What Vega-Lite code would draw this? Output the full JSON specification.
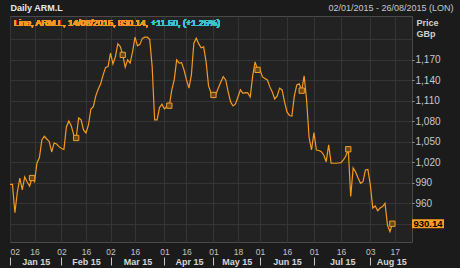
{
  "$schema": "https://vega.github.io/schema/vega-lite/v6.json",
  "width": 402,
  "height": 226,
  "autosize": {"type": "none"},
  "padding": {"left": 10, "top": 16, "right": 48, "bottom": 26},
  "background": "#1b1b1b",
  "config": {
    "view": {"fill": "#222222", "stroke": "#4a4a4a"},
    "font": "Liberation Sans",
    "axis": {"labelFont": "Liberation Sans", "titleFont": "Liberation Sans", "labelOverlap": false},
    "text": {"font": "Liberation Sans"}
  },
  "data": {
    "values": [
      {"d": 0, "p": 987.8}, {"d": 1, "p": 987.8}, {"d": 2, "p": 946.2}, {"d": 3, "p": 976.5},
      {"d": 4, "p": 997}, {"d": 5, "p": 979.5}, {"d": 6, "p": 998.5}, {"d": 7, "p": 991.2},
      {"d": 8, "p": 985.3}, {"d": 9, "p": 997, "m": 1}, {"d": 10, "p": 991.6}, {"d": 11, "p": 1019},
      {"d": 12, "p": 1027}, {"d": 13, "p": 1052.7}, {"d": 14, "p": 1058.1}, {"d": 15, "p": 1054.1},
      {"d": 16, "p": 1050.5}, {"d": 17, "p": 1035.1}, {"d": 18, "p": 1048.3}, {"d": 19, "p": 1046.8},
      {"d": 20, "p": 1042.9}, {"d": 21, "p": 1040.2}, {"d": 22, "p": 1038.8}, {"d": 23, "p": 1071.7},
      {"d": 24, "p": 1080.5}, {"d": 25, "p": 1073.2}, {"d": 26, "p": 1060}, {"d": 27, "p": 1055.6, "m": 1},
      {"d": 28, "p": 1084.9}, {"d": 29, "p": 1082}, {"d": 30, "p": 1067.3}, {"d": 31, "p": 1062.9},
      {"d": 32, "p": 1074.6}, {"d": 33, "p": 1098}, {"d": 34, "p": 1101.4}, {"d": 35, "p": 1117.1},
      {"d": 36, "p": 1127.3}, {"d": 37, "p": 1134.7}, {"d": 38, "p": 1147.8}, {"d": 39, "p": 1158.8},
      {"d": 40, "p": 1160}, {"d": 41, "p": 1179.6}, {"d": 42, "p": 1163.9}, {"d": 43, "p": 1174.6},
      {"d": 44, "p": 1193.2}, {"d": 45, "p": 1189.3}, {"d": 46, "p": 1177.1, "m": 1}, {"d": 47, "p": 1159},
      {"d": 48, "p": 1169.8}, {"d": 49, "p": 1165}, {"d": 50, "p": 1181.5}, {"d": 51, "p": 1203},
      {"d": 52, "p": 1190.3}, {"d": 53, "p": 1192.5}, {"d": 54, "p": 1201.3}, {"d": 55, "p": 1203},
      {"d": 56, "p": 1203}, {"d": 57, "p": 1200}, {"d": 58, "p": 1160}, {"d": 59, "p": 1082},
      {"d": 60, "p": 1082}, {"d": 61, "p": 1100}, {"d": 62, "p": 1105}, {"d": 63, "p": 1098},
      {"d": 64, "p": 1101.9}, {"d": 65, "p": 1102.8, "m": 1}, {"d": 66, "p": 1126}, {"d": 67, "p": 1140.5},
      {"d": 68, "p": 1169.8}, {"d": 69, "p": 1165}, {"d": 70, "p": 1165.8}, {"d": 71, "p": 1155},
      {"d": 72, "p": 1140.5}, {"d": 73, "p": 1128.4}, {"d": 74, "p": 1147.8}, {"d": 75, "p": 1194.2},
      {"d": 76, "p": 1201.6}, {"d": 77, "p": 1193.2}, {"d": 78, "p": 1187.4}, {"d": 79, "p": 1188.8},
      {"d": 80, "p": 1167}, {"d": 81, "p": 1131.7}, {"d": 82, "p": 1121.4}, {"d": 83, "p": 1118.5, "m": 1},
      {"d": 84, "p": 1119.9}, {"d": 85, "p": 1128.8}, {"d": 86, "p": 1137.6}, {"d": 87, "p": 1145.3},
      {"d": 88, "p": 1140.5}, {"d": 89, "p": 1122.9}, {"d": 90, "p": 1108.3}, {"d": 91, "p": 1102.4},
      {"d": 92, "p": 1105.3}, {"d": 93, "p": 1115.6}, {"d": 94, "p": 1125.9}, {"d": 95, "p": 1121},
      {"d": 96, "p": 1121.9}, {"d": 97, "p": 1121.5}, {"d": 98, "p": 1115.6}, {"d": 99, "p": 1146.4},
      {"d": 100, "p": 1166.9}, {"d": 101, "p": 1155.2, "m": 1}, {"d": 102, "p": 1155.2}, {"d": 103, "p": 1144.9},
      {"d": 104, "p": 1142.7}, {"d": 105, "p": 1140.5}, {"d": 106, "p": 1130.3}, {"d": 107, "p": 1122.9},
      {"d": 108, "p": 1112.7}, {"d": 109, "p": 1117.1}, {"d": 110, "p": 1128.4}, {"d": 111, "p": 1125.9},
      {"d": 112, "p": 1108.3}, {"d": 113, "p": 1093.7}, {"d": 114, "p": 1088.5}, {"d": 115, "p": 1087.8},
      {"d": 116, "p": 1117.1}, {"d": 117, "p": 1133.2}, {"d": 118, "p": 1134.7}, {"d": 119, "p": 1124.8, "m": 1},
      {"d": 120, "p": 1146.4}, {"d": 121, "p": 1111.3}, {"d": 122, "p": 1057}, {"d": 123, "p": 1038},
      {"d": 124, "p": 1063.4}, {"d": 125, "p": 1038}, {"d": 126, "p": 1037.3}, {"d": 127, "p": 1035.5},
      {"d": 128, "p": 1030.7}, {"d": 129, "p": 1020.9}, {"d": 130, "p": 1045.4}, {"d": 131, "p": 1018.6},
      {"d": 132, "p": 1018.6}, {"d": 133, "p": 1018.6}, {"d": 134, "p": 1019}, {"d": 135, "p": 1019.4},
      {"d": 136, "p": 1023.4}, {"d": 137, "p": 1029.2}, {"d": 138, "p": 1039.1, "m": 1}, {"d": 139, "p": 970},
      {"d": 140, "p": 1011.7}, {"d": 141, "p": 1005.8}, {"d": 142, "p": 997}, {"d": 143, "p": 989.3},
      {"d": 144, "p": 991.6}, {"d": 145, "p": 1008.8}, {"d": 146, "p": 1009.5}, {"d": 147, "p": 986.8},
      {"d": 148, "p": 953.1}, {"d": 149, "p": 956}, {"d": 150, "p": 949.2}, {"d": 151, "p": 953.1},
      {"d": 152, "p": 955.3}, {"d": 153, "p": 960}, {"d": 154, "p": 928.2}, {"d": 155, "p": 918.64},
      {"d": 156, "p": 930.14, "m": 1}
    ]
  },
  "layer": [
    {
      "mark": {"type": "line", "color": "#f39a1f", "strokeWidth": 1.2},
      "encoding": {
        "x": {
          "field": "d", "type": "quantitative",
          "scale": {"domain": [0, 164], "nice": false, "zero": false},
          "axis": {
            "orient": "bottom",
            "values": [0, 10, 21, 31, 41, 51, 63, 72, 83, 93, 102, 113, 124, 135, 147, 157],
            "labelExpr": "['02','16','02','16','02','16','01','16','01','18','01','16','01','16','03','17'][indexof([0,10,21,31,41,51,63,72,83,93,102,113,124,135,147,157], datum.value)]",
            "grid": true, "gridColor": "#353535", "ticks": false, "domain": false,
            "labelFlush": true, "labelOverlap": false, "labelFontSize": 8.5, "labelColor": "#c4c4c4",
            "labelPadding": 5, "title": null
          }
        },
        "y": {
          "field": "p", "type": "quantitative",
          "scale": {"domain": [903.4, 1234], "nice": false, "zero": false},
          "axis": {
            "orient": "right",
            "values": [930, 960, 990, 1020, 1050, 1080, 1110, 1140, 1170, 1200],
            "labels": false, "ticks": false, "domain": false,
            "grid": true, "gridColor": "#353535", "title": null
          }
        }
      }
    },
    {
      "transform": [{"filter": "datum.m == 1"}],
      "mark": {"type": "point", "shape": "square", "filled": true, "size": 28, "fill": "#6b4512", "stroke": "#f0a030", "strokeWidth": 1, "opacity": 1},
      "encoding": {
        "x": {
          "field": "d", "type": "quantitative",
          "axis": {
            "orient": "bottom", "offset": 15,
            "values": [0, 10.5, 21, 31, 41, 52, 63, 73, 83, 92.5, 102, 113, 124, 135.5, 147, 155.5],
            "labelExpr": "indexof([10.5,31,52,73,92.5,113,135.5,155.5], datum.value) >= 0 ? ['Jan 15','Feb 15','Mar 15','Apr 15','May 15','Jun 15','Jul 15','Aug 15'][indexof([10.5,31,52,73,92.5,113,135.5,155.5], datum.value)] : ''",
            "tickOpacity": {"condition": {"test": "indexof([10.5,31,52,73,92.5,113,135.5,155.5], datum.value) >= 0", "value": 0}, "value": 1},
            "tickSize": 8, "tickColor": "#c8c8c8", "labelPadding": -8, "labelFontSize": 9,
            "labelFontWeight": "bold", "labelColor": "#d6d6d6", "domain": false, "grid": false,
            "title": null, "labelFlush": false, "labelOverlap": false, "labelBound": false
          }
        },
        "y": {
          "field": "p", "type": "quantitative",
          "axis": {
            "orient": "right",
            "values": [960, 990, 1020, 1050, 1080, 1110, 1140, 1170],
            "format": ",.0f",
            "tickSize": 2, "tickColor": "#9a9a9a", "labelPadding": 1, "labelFontSize": 10,
            "labelColor": "#c8c8c8", "grid": false, "domain": false,
            "labelOverlap": false, "labelBound": false, "labelFlush": false,
            "title": ["Price", "GBp"], "titleAngle": 0, "titleAlign": "left", "titleBaseline": "alphabetic",
            "titleX": 4, "titleY": 9, "titleFontSize": 9, "titleFontWeight": "bold",
            "titleColor": "#d0d0d0", "titleLineHeight": 11.6
          }
        }
      }
    },
    {
      "transform": [{"filter": "datum.d == 156"}],
      "mark": {"type": "point", "shape": "M0,-0.45H3.2V0.45H0Z", "filled": true, "size": 400, "color": "#f5a020", "opacity": 1},
      "encoding": {
        "x": {
          "datum": 164, "type": "quantitative",
          "axis": {
            "orient": "top", "values": [0, 164],
            "labelExpr": "datum.value == 0 ? 'Daily ARM.L' : '02/01/2015 - 26/08/2015 (LON)'",
            "labelAlign": {"condition": {"test": "datum.value == 0", "value": "left"}, "value": "right"},
            "labelFontWeight": {"condition": {"test": "datum.value == 0", "value": "bold"}, "value": "normal"},
            "labelColor": {"condition": {"test": "datum.value == 0", "value": "#e8e8e8"}, "value": "#c8c8c8"},
            "labelOffset": {"condition": {"test": "datum.value == 0", "value": 0}, "value": 41},
            "labelPadding": 3.5, "labelFontSize": 9, "ticks": false, "domain": false, "grid": false,
            "title": null, "labelFlush": false, "labelBound": false, "labelOverlap": false
          }
        },
        "y": {"field": "p", "type": "quantitative", "axis": null}
      }
    },
    {
      "transform": [{"filter": "datum.d == 156"}],
      "mark": {"type": "text", "dx": 16, "align": "center", "baseline": "middle", "fontWeight": "bold", "fontSize": 9.5, "color": "#000000"},
      "encoding": {
        "x": {"datum": 164, "type": "quantitative", "axis": null},
        "y": {"field": "p", "type": "quantitative", "axis": null},
        "text": {"field": "p", "type": "quantitative", "format": ".2f"}
      }
    },
    {
      "mark": {"type": "text", "text": "Line, ARM.L, 14/08/2015, 930.14,", "dx": 4, "dy": 6.5, "align": "left", "baseline": "middle", "fontSize": 9, "fontWeight": "normal", "color": "#f39a1f"},
      "encoding": {
        "x": {"datum": 0, "type": "quantitative", "axis": null},
        "y": {"datum": 1234, "type": "quantitative", "axis": null}
      }
    },
    {
      "mark": {"type": "text", "text": "+11.50, (+1.25%)", "dx": 141, "dy": 6.5, "align": "left", "baseline": "middle", "fontSize": 9, "fontWeight": "normal", "color": "#3cc6d2"},
      "encoding": {
        "x": {"datum": 0, "type": "quantitative", "axis": null},
        "y": {"datum": 1234, "type": "quantitative", "axis": null}
      }
    }
  ],
  "resolve": {"axis": {"x": "independent", "y": "independent"}}
}
